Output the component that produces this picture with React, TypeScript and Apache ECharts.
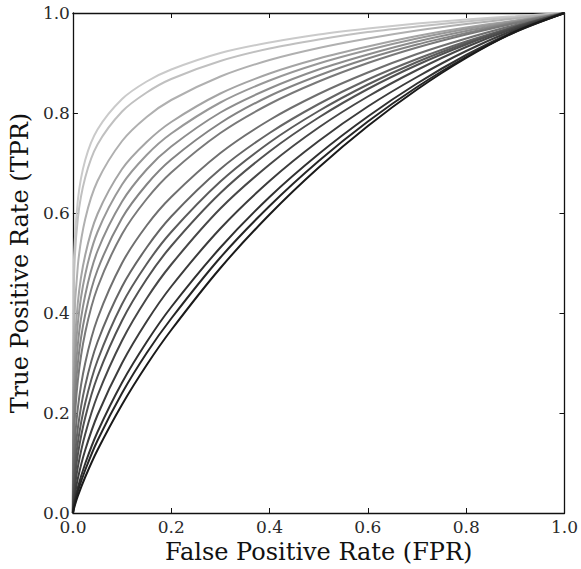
import React, { useEffect, useRef } from "react";
import * as echarts from "echarts";

const fpr = [0, 0.002, 0.01, 0.025, 0.05, 0.1, 0.15, 0.2, 0.3, 0.4, 0.5, 0.6, 0.7, 0.8, 0.9, 1];

const tpr01 = [0, 0.496, 0.626, 0.706, 0.767, 0.828, 0.863, 0.887, 0.92, 0.941, 0.957, 0.969, 0.979, 0.987, 0.9935, 1];
const tpr02 = [0, 0.457, 0.589, 0.671, 0.737, 0.803, 0.841, 0.868, 0.904, 0.929, 0.947, 0.962, 0.973, 0.983, 0.9916, 1];
const tpr03 = [0, 0.357, 0.495, 0.588, 0.664, 0.744, 0.792, 0.826, 0.873, 0.906, 0.93, 0.949, 0.965, 0.978, 0.989, 1];
const tpr04 = [0, 0.286, 0.421, 0.516, 0.598, 0.688, 0.742, 0.782, 0.839, 0.879, 0.909, 0.933, 0.954, 0.971, 0.985, 1];
const tpr05 = [0, 0.248, 0.38, 0.477, 0.562, 0.657, 0.716, 0.759, 0.821, 0.865, 0.899, 0.926, 0.949, 0.968, 0.984, 1];
const tpr06 = [0, 0.211, 0.338, 0.436, 0.524, 0.623, 0.687, 0.733, 0.801, 0.849, 0.887, 0.917, 0.943, 0.964, 0.982, 1];
const tpr07 = [0, 0.178, 0.3, 0.397, 0.486, 0.59, 0.657, 0.707, 0.78, 0.834, 0.875, 0.909, 0.937, 0.96, 0.981, 1];
const tpr08 = [0, 0.15, 0.265, 0.361, 0.451, 0.558, 0.628, 0.681, 0.76, 0.818, 0.863, 0.9, 0.931, 0.957, 0.9795, 1];
const tpr09 = [0, 0.109, 0.21, 0.3, 0.389, 0.5, 0.575, 0.632, 0.72, 0.786, 0.838, 0.881, 0.918, 0.949, 0.976, 1];
const tpr10 = [0, 0.082, 0.17, 0.255, 0.342, 0.453, 0.531, 0.593, 0.688, 0.76, 0.818, 0.867, 0.908, 0.943, 0.973, 1];
const tpr11 = [0, 0.063, 0.141, 0.22, 0.305, 0.418, 0.498, 0.562, 0.663, 0.741, 0.804, 0.857, 0.902, 0.94, 0.9726, 1];
const tpr12 = [0, 0.048, 0.117, 0.191, 0.273, 0.385, 0.468, 0.534, 0.64, 0.723, 0.791, 0.848, 0.896, 0.937, 0.972, 1];
const tpr13 = [0, 0.034, 0.092, 0.158, 0.235, 0.345, 0.429, 0.497, 0.609, 0.697, 0.771, 0.833, 0.886, 0.932, 0.97, 1];
const tpr14 = [0, 0.023, 0.069, 0.126, 0.196, 0.3, 0.383, 0.453, 0.569, 0.664, 0.744, 0.813, 0.872, 0.924, 0.967, 1];
const tpr15 = [0, 0.0155, 0.051, 0.099, 0.162, 0.261, 0.342, 0.412, 0.531, 0.632, 0.718, 0.793, 0.859, 0.916, 0.964, 1];
const tpr16 = [0, 0.012, 0.043, 0.086, 0.145, 0.24, 0.32, 0.389, 0.511, 0.614, 0.704, 0.783, 0.852, 0.912, 0.962, 1];
const tpr17 = [0, 0.0087, 0.034, 0.072, 0.126, 0.217, 0.296, 0.366, 0.49, 0.597, 0.691, 0.774, 0.847, 0.91, 0.9625, 1];

const curves = [tpr01, tpr02, tpr03, tpr04, tpr05, tpr06, tpr07, tpr08, tpr09, tpr10, tpr11, tpr12, tpr13, tpr14, tpr15, tpr16, tpr17];
const grays = ["#cacaca", "#c0c0c0", "#b0b0b0", "#a4a4a4", "#989898", "#8d8d8d", "#838383", "#797979", "#6f6f6f", "#656565", "#5b5b5b", "#515151", "#474747", "#3c3c3c", "#313131", "#262626", "#1a1a1a"];

const xTicks = [0, 0.2, 0.4, 0.6, 0.8, 1];
const xName = "False Positive Rate (FPR)";
const yName = "True Positive Rate (TPR)";

const FONT = "DejaVu Serif";

export default function App() {
  const ref = useRef<HTMLDivElement>(null);
  useEffect(() => {
    if (!ref.current) return;
    const chart = echarts.init(ref.current, undefined, { renderer: "svg" });
    const axisCommon = {
      type: "value",
      min: xTicks[0],
      max: xTicks[xTicks.length - 1],
      interval: 0.2,
      axisLine: { show: true, onZero: false, lineStyle: { color: "#111", width: 1.3 } },
      axisTick: { show: true, inside: true, length: 5, lineStyle: { color: "#111", width: 1 } },
      splitLine: { show: false },
    };
    const labelStyle = {
      fontFamily: FONT,
      fontSize: 17,
      color: "#2a2a2a",
      formatter: (v: number) => v.toFixed(1),
    };
    chart.setOption({
      animation: false,
      backgroundColor: "#fff",
      grid: { left: 67, right: 14, top: 13, bottom: 56 },
      xAxis: [
        {
          ...axisCommon,
          position: "bottom",
          name: xName,
          nameLocation: "middle",
          nameGap: 20,
          nameTextStyle: { fontFamily: FONT, fontSize: 24, color: "#111" },
          axisLabel: { ...labelStyle, margin: 5 },
        },
        { ...axisCommon, position: "top", axisLabel: { show: false } },
      ],
      yAxis: [
        {
          ...axisCommon,
          position: "left",
          name: yName,
          nameLocation: "middle",
          nameGap: 29,
          nameTextStyle: { fontFamily: FONT, fontSize: 24, color: "#111" },
          axisLabel: { ...labelStyle, margin: 3 },
        },
        { ...axisCommon, position: "right", axisLabel: { show: false } },
      ],
      series: curves.map((c, i) => ({
        type: "line",
        xAxisIndex: 0,
        yAxisIndex: 0,
        showSymbol: false,
        smooth: 0.3,
        data: c.map((y, j) => [fpr[j], y]),
        lineStyle: { color: grays[i], width: 2 },
        itemStyle: { color: grays[i] },
        z: 2,
      })),
    });
    return () => chart.dispose();
  }, []);
  return <div ref={ref} style={{ position: "fixed", left: 0, top: 0, width: 581, height: 569 }} />;
}
